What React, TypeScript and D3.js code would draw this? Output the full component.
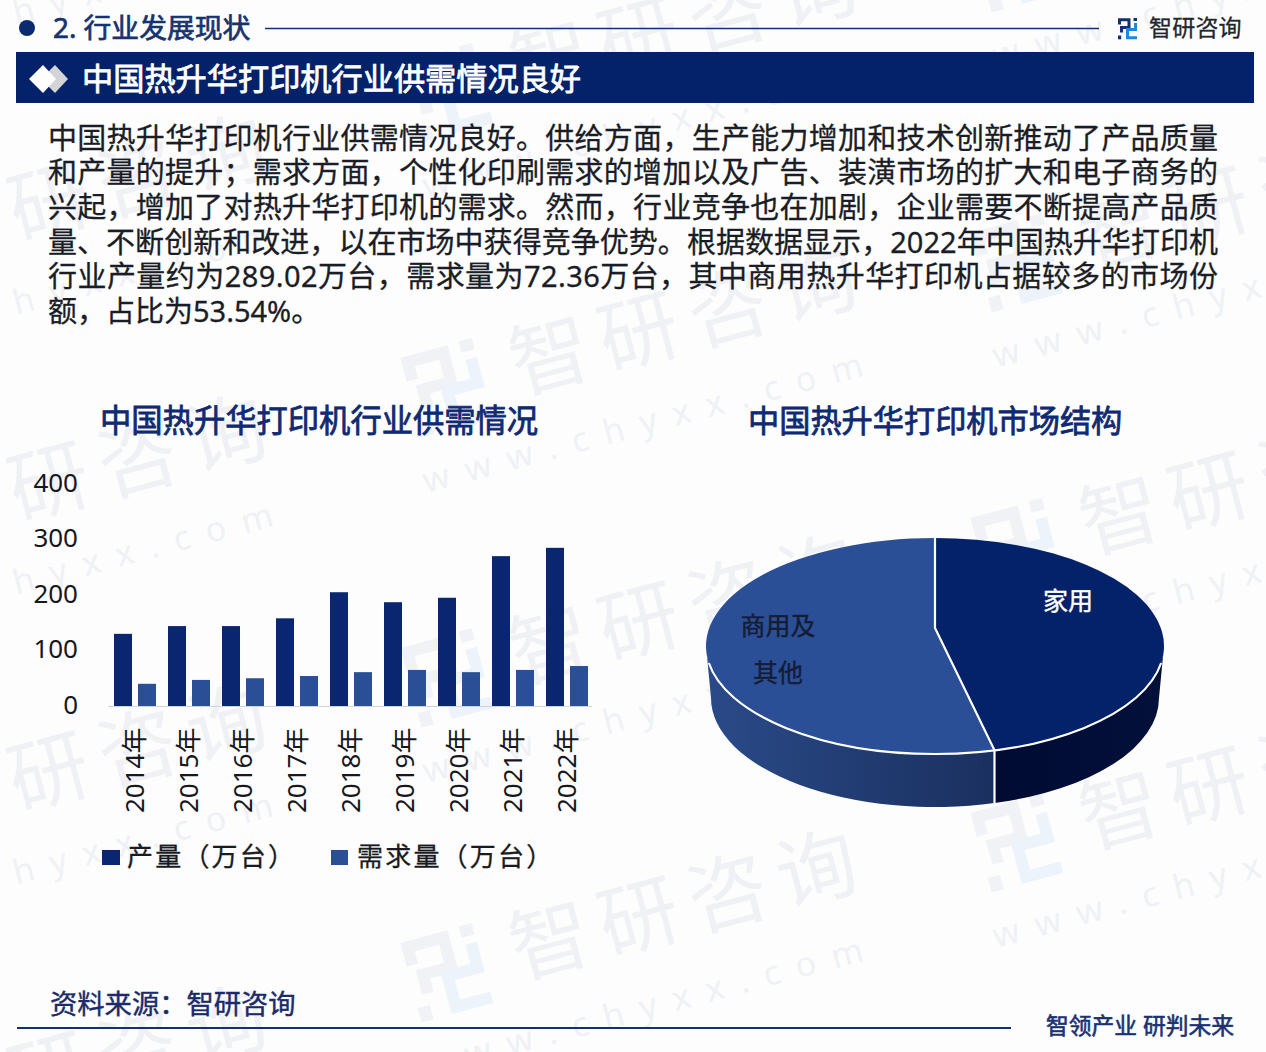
import React from "react";
import * as d3 from "d3";

const years = ["2014年","2015年","2016年","2017年","2018年","2019年","2020年","2021年","2022年"];
const production = [130, 144, 144, 158, 205, 187, 195, 270, 285];
const demand = [40, 47, 50, 54, 61, 65, 61, 65, 72];
const yTicks = [0, 100, 200, 300, 400];
const seriesNames = ["产量（万台）", "需求量（万台）"];
const pieNames = ["家用", "商用及其他"];
const pieShares = [46.46, 53.54];
const paragraph = [
  "中国热升华打印机行业供需情况良好。供给方面，生产能力增加和技术创新推动了产品质量",
  "和产量的提升；需求方面，个性化印刷需求的增加以及广告、装潢市场的扩大和电子商务的",
  "兴起，增加了对热升华打印机的需求。然而，行业竞争也在加剧，企业需要不断提高产品质",
  "量、不断创新和改进，以在市场中获得竞争优势。根据数据显示，2022年中国热升华打印机",
  "行业产量约为289.02万台，需求量为72.36万台，其中商用热升华打印机占据较多的市场份",
  "额，占比为53.54%。",
];
const watermarkAnchors = [
  [440, 95], [440, 390], [440, 680], [440, 975],
  [1010, -35], [1010, 265], [1010, 550], [1010, 845],
  [-150, -30], [-150, 260], [-150, 540], [-150, 830], [-150, 1130],
];

const NAVY = "#04226a";
const BLUE = "#2b4f97";
const FONT = '"Noto Sans", "Noto Sans CJK SC", sans-serif';

const x0 = d3.scaleBand<string>().domain(years).range([108, 594]);
const x1 = d3.scaleBand<string>().domain(seriesNames).range([6, 48]).paddingInner(0.25);
const y = d3.scaleLinear().domain([0, 400]).range([706, 484]);

// pie geometry: slanted disc seen in perspective, the hub sits above the ellipse centre
const top = { cx: 935, cy: 646, rx: 229, ry: 108 };
const bot = { cx: 935, cy: 698, rx: 224, ry: 109 };
const hubShift = 0.167;
const project = (a: number) => {
  const sx = Math.sin(a), sy = Math.cos(a);
  const k = 1 + hubShift * sy;
  const px = (sx * Math.sqrt(1 - hubShift * hubShift)) / k;
  const py = (sy + hubShift) / k;
  return [top.cx + px * top.rx, top.cy - py * top.ry];
};
const arcs = d3.pie<number>().sort(null)(pieShares);
const splitAngle = arcs[0].endAngle;
const [sx, sy] = project(splitAngle);
const hubY = top.cy - hubShift * top.ry;
const botSplitY = bot.cy + bot.ry * Math.sqrt(1 - ((sx - bot.cx) / bot.rx) ** 2);

const homeTop = `M${top.cx} ${top.cy - top.ry} A${top.rx} ${top.ry} 0 0 1 ${sx} ${sy} L${top.cx} ${hubY} Z`;
const otherTop = `M${top.cx} ${top.cy - top.ry} A${top.rx} ${top.ry} 0 1 0 ${sx} ${sy} L${top.cx} ${hubY} Z`;
const leftSide = `M${top.cx - top.rx} ${top.cy} L${bot.cx - bot.rx} ${bot.cy} A${bot.rx} ${bot.ry} 0 0 0 ${sx} ${botSplitY} L${sx} ${sy} A${top.rx} ${top.ry} 0 0 1 ${top.cx - top.rx} ${top.cy} Z`;
const rightSide = `M${sx} ${sy} L${sx} ${botSplitY} A${bot.rx} ${bot.ry} 0 0 0 ${bot.cx + bot.rx} ${bot.cy} L${top.cx + top.rx} ${top.cy} A${top.rx} ${top.ry} 0 0 1 ${sx} ${sy} Z`;
const rimStartY = top.cy + 17;
const rimStartX = top.cx - top.rx * Math.sqrt(1 - (17 / top.ry) ** 2);
const rimEndX = top.cx + top.rx * Math.sqrt(1 - (17 / top.ry) ** 2);
const rim = `M${rimStartX} ${rimStartY} A${top.rx} ${top.ry} 0 0 0 ${rimEndX} ${rimStartY}`;

function Logo({ x, y, s, navy, blue }: any) {
  return (
    <g transform={`translate(${x},${y}) scale(${s})`} fill="none">
      <path d="M1.5 6.5 V1.7 H11 V9.5 H3.5 V14.5" stroke={navy} strokeWidth={3} />
      <rect x={0} y={17.5} width={3.2} height={3.8} fill={navy} />
      <rect x={15.5} y={0} width={3.5} height={3} fill={navy} />
      <path d="M17.5 5 V11.5 H9.5 V19.7 H19" stroke={blue} strokeWidth={3} />
    </g>
  );
}

function Watermark({ x, y }: { x: number; y: number }) {
  return (
    <g transform={`translate(${x},${y}) rotate(-15)`}>
      <Logo x={-30} y={-42} s={3.9} navy="#f0f2f6" blue="#edf3fb" />
      <text x={75} y={24} fontSize={80} letterSpacing={12} fill="#f0f1f5" fontFamily={FONT}>智研咨询</text>
      <text x={-40} y={96} fontSize={34} letterSpacing={16.5} fill="#eff1f5" fontFamily={FONT}>www.chyxx.com</text>
    </g>
  );
}

const medium = (c: string, w: number) => ({ stroke: c, strokeWidth: w, paintOrder: "stroke" as const });

export default function App() {
  return (
    <svg
      width={1266}
      height={1052}
      viewBox="0 0 1266 1052"
      style={{ position: "absolute", left: 0, top: 0, display: "block", background: "#fdfdfe" }}
      fontFamily={FONT}
    >
      <defs>
        <linearGradient id="sideL" x1="0" x2="1" y1="0" y2="0">
          <stop offset="0" stopColor="#2a4a88" />
          <stop offset="1" stopColor="#1a305f" />
        </linearGradient>
        <linearGradient id="sideR" x1="0" x2="1" y1="0" y2="0">
          <stop offset="0" stopColor="#000b33" />
          <stop offset="1" stopColor="#03103a" />
        </linearGradient>
      </defs>

      {watermarkAnchors.map(([wx, wy], i) => (
        <Watermark key={i} x={wx} y={wy} />
      ))}

      {/* top strip */}
      <circle cx={27} cy={28} r={8} fill="#0c2a6e" />
      <text x={53} y={38} fontSize={27.8} fill="#17336f" {...medium("#17336f", 0.7)}>2. 行业发展现状</text>
      <line x1={265} x2={1099} y1={28.5} y2={28.5} stroke="#15306c" strokeWidth={1.6} />
      <Logo x={1118} y={18} s={1} navy="#14306f" blue="#2187d8" />
      <text x={1149} y={36} fontSize={23} fill="#23252c" letterSpacing={0.2} {...medium("#23252c", 0.3)}>智研咨询</text>

      {/* heading band */}
      <rect x={16} y={52} width={1238} height={51} fill={NAVY} />
      <path d="M55 65 L68 79 L55 93 L41 79 Z" fill="#d4d4d6" />
      <path d="M43 65 L56 79 L43 93 L29 79 Z" fill="#ffffff" />
      <text x={82} y={90} fontSize={31.2} fill="#ffffff" {...medium("#ffffff", 0.8)}>中国热升华打印机行业供需情况良好</text>

      {/* paragraph */}
      {paragraph.map((line, i) => (
        <text
          key={i}
          x={48}
          y={148.5 + i * 34.7}
          fontSize={29}
          fill="#1b1d26"
          textLength={i < 5 ? 1170 : undefined}
          lengthAdjust="spacing"
          {...medium("#1b1d26", 0.3)}
        >
          {line}
        </text>
      ))}

      {/* chart titles */}
      <text x={100} y={432} fontSize={31.3} fill="#0f2a72" {...medium("#0f2a72", 0.8)}>中国热升华打印机行业供需情况</text>
      <text x={748} y={432} fontSize={31.2} fill="#0f2a72" {...medium("#0f2a72", 0.8)}>中国热升华打印机市场结构</text>

      {/* bar chart */}
      {yTicks.map((t) => (
        <text key={t} x={78} y={y(t) - 1.5} dy="0.35em" textAnchor="end" fontSize={26} fill="#17181d">{t}</text>
      ))}
      <line x1={108} x2={592} y1={706.5} y2={706.5} stroke="#cfd4dc" strokeWidth={1} />
      {years.map((yr, i) => (
        <g key={yr} transform={`translate(${x0(yr)},0)`}>
          <rect x={x1(seriesNames[0])} y={y(production[i])} width={x1.bandwidth()} height={y(0) - y(production[i])} fill="#0a2670" />
          <rect x={x1(seriesNames[1])} y={y(demand[i])} width={x1.bandwidth()} height={y(0) - y(demand[i])} fill={BLUE} />
          <text transform={`translate(${x0.bandwidth() / 2},813) rotate(-90)`} dy="0.35em" fontSize={26} fill="#17181d">{yr}</text>
        </g>
      ))}

      {/* legend */}
      <rect x={102} y={850} width={18} height={15} fill="#0a2670" />
      <text x={127} y={866} fontSize={26} letterSpacing={2.2} fill="#1a1b22" {...medium("#1a1b22", 0.3)}>{seriesNames[0]}</text>
      <rect x={331} y={850} width={17} height={15} fill={BLUE} />
      <text x={357} y={866} fontSize={26} letterSpacing={2.2} fill="#1a1b22" {...medium("#1a1b22", 0.3)}>{seriesNames[1]}</text>

      {/* 3D pie */}
      <path d={leftSide} fill="url(#sideL)" />
      <path d={rightSide} fill="url(#sideR)" />
      <path d={otherTop} fill={BLUE} />
      <path d={homeTop} fill={NAVY} />
      <path d={rim} fill="none" stroke="#ffffff" strokeWidth={2.2} />
      <path d={`M${top.cx} ${top.cy - top.ry} L${top.cx} ${hubY} L${sx} ${sy} L${sx} ${botSplitY}`} fill="none" stroke="#ffffff" strokeWidth={2.2} />
      <text x={1068} y={610} textAnchor="middle" fontSize={25} fill="#ffffff" {...medium("#ffffff", 0.4)}>{pieNames[0]}</text>
      <text x={778} y={635} textAnchor="middle" fontSize={25} fill="#141c36" {...medium("#141c36", 0.4)}>{pieNames[1].slice(0, 3)}</text>
      <text x={778} y={682} textAnchor="middle" fontSize={25} fill="#141c36" {...medium("#141c36", 0.4)}>{pieNames[1].slice(3)}</text>

      {/* footer */}
      <text x={50} y={1014} fontSize={27.3} fill="#1b2a68" {...medium("#1b2a68", 0.4)}>资料来源：智研咨询</text>
      <line x1={17} x2={1011} y1={1028} y2={1028} stroke="#14306a" strokeWidth={2} />
      <text x={1046} y={1034} fontSize={23} fill="#1b3272" textLength={188} lengthAdjust="spacingAndGlyphs" {...medium("#1b3272", 0.6)}>智领产业 研判未来</text>
    </svg>
  );
}
